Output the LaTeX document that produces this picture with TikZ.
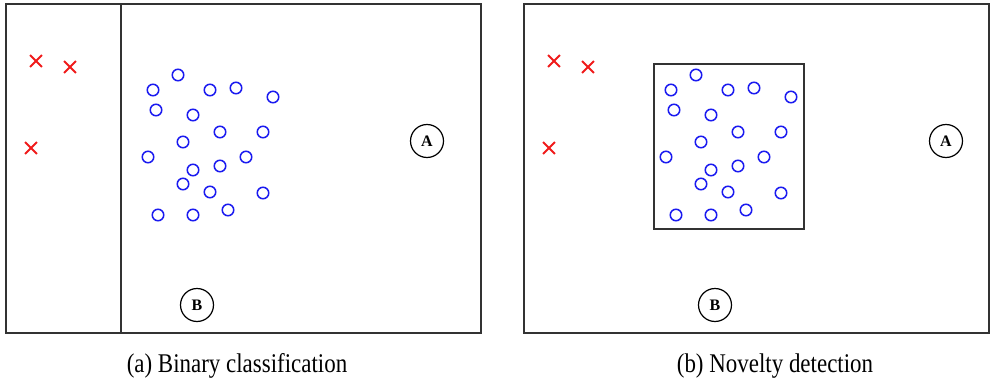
\documentclass[tikz,border=0pt]{standalone}
\usepackage{fontspec}
\setmainfont{Liberation Serif}
\newfontfamily\capfont[FakeStretch=0.85]{Liberation Serif}
\usetikzlibrary{shapes.misc, positioning}
\definecolor{frameGrey}{HTML}{333333}
\definecolor{ptBlue}{HTML}{1A1AF0}
\definecolor{ptRed}{HTML}{F01A1A}
\tikzset{
  frame/.style    = {draw=frameGrey, line width=1.3pt},
  boundary/.style = {draw=frameGrey, line width=1.3pt},
  normalpt/.style = {circle, draw=ptBlue, line width=1.5pt, minimum size=11.5pt, inner sep=0pt},
  outlier/.style  = {cross out, draw=ptRed, line width=1.8pt, minimum size=10pt, inner sep=0pt},
  classlbl/.style = {circle, draw=black, line width=1.2pt, minimum size=33pt, inner sep=0pt,
                     font=\fontsize{16}{16}\selectfont\bfseries},
  caption/.style  = {anchor=base, inner sep=0pt, font=\capfont\fontsize{27}{27}\selectfont},
}
% positions of the normal samples (shared by both panels)
\newcommand\normalset{178/75, 153/90, 210/90, 236/88, 273/97, 156/110, 193/115,
  220/132, 263/132, 183/142, 148/157, 246/157, 193/170, 220/166, 183/184,
  210/192, 263/193, 158/215, 193/215, 228/210}
\newcommand\outlierset{36/61, 70/67, 31/148}

\begin{document}
\begin{tikzpicture}[x=1pt, y=-1pt]
  \useasboundingbox (0,0) rectangle (991,380);

  % (a) two-class split
  \draw[frame] (6,4) rectangle (481,333);
  \coordinate (divTop) at (121,4);
  \coordinate (divBot) at (121,333);
  \draw[boundary] (divTop) -- (divBot);
  \foreach \xx/\yy [count=\i] in \outlierset
    \node[outlier] (xa\i) at (\xx,\yy) {};
  \foreach \xx/\yy [count=\i] in \normalset
    \node[normalpt] (oa\i) at (\xx,\yy) {};
  \node[classlbl] (clsAa) at (427,141) {A};
  \node[classlbl] (clsBa) at (197,305) {B};
  \node[caption] (capA) at (237,372) {(a) Binary classification};

  % (b) one-class: box around the normal data only
  \begin{scope}[xshift=518pt]
    \draw[frame] (6,4) rectangle (471,333);
    \draw[boundary] (136,64) rectangle (286,229);
    \foreach \xx/\yy [count=\i] in \outlierset
      \node[outlier] (xb\i) at (\xx,\yy) {};
    \foreach \xx/\yy [count=\i] in \normalset
      \node[normalpt] (ob\i) at (\xx,\yy) {};
    \node[classlbl] (clsAb) at (428,141) {A};
    \node[classlbl] (clsBb) at (197,305) {B};
    \node[caption] (capB) at (257,372) {(b) Novelty detection};
  \end{scope}
\end{tikzpicture}
\end{document}
